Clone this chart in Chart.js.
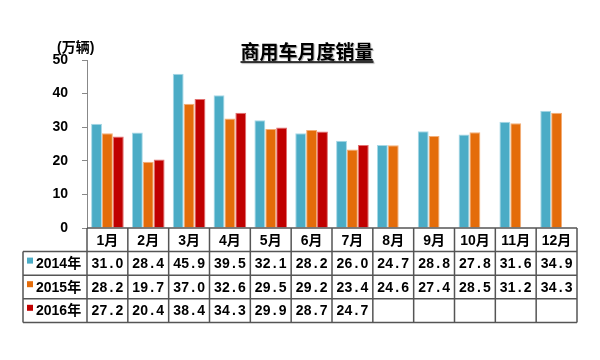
<!DOCTYPE html>
<html><head><meta charset="utf-8">
<script src="https://cdn.jsdelivr.net/npm/chart.js@4/dist/chart.umd.min.js"></script>
<style>html,body{margin:0;padding:0;background:#fff;}</style>
</head><body>
<canvas id="c" width="600" height="360" style="width:600px;height:360px;display:block"></canvas>
<script>
const categories = ['1月','2月','3月','4月','5月','6月','7月','8月','9月','10月','11月','12月'];
const seriesNames = ['2014年','2015年','2016年'];
const sales2014 = [31.0,28.4,45.9,39.5,32.1,28.2,26.0,24.7,28.8,27.8,31.6,34.9];
const sales2015 = [28.2,19.7,37.0,32.6,29.5,29.2,23.4,24.6,27.4,28.5,31.2,34.3];
const sales2016 = [27.2,20.4,38.4,34.3,29.9,28.7,24.7,null,null,null,null,null];
const yTicks = [0,10,20,30,40,50];
const chartTitle = '商用车月度销量';
const unitLabel = '(万辆)';

const seriesData = [sales2014, sales2015, sales2016];
const colors = ['#4BACC6','#E46C0A','#C00000'];
const borders = ['#A6D8E6','#F3AE78','#E27070'];
const cjk = '"Liberation Sans", "Noto Sans CJK SC", sans-serif';

function drawFixed(ctx, str, cx, cy, adv) {
  const w = str.length * adv;
  let x = cx - w / 2 + adv / 2;
  ctx.textAlign = 'center';
  for (const ch of str) { ctx.fillText(ch, x, cy); x += adv; }
}

const tablePlugin = {
  id: 'tablePlugin',
  afterDraw(chart) {
    const ctx = chart.ctx, area = chart.chartArea, xs = chart.scales.x;
    const n = categories.length;
    const cw = (area.right - area.left) / n;
    const rowH = 23.6, top = area.bottom, leftCol = 23;
    const bottom = top + rowH * 4;
    ctx.save();
    ctx.strokeStyle = '#555'; ctx.lineWidth = 1.5;
    ctx.beginPath();
    ctx.moveTo(area.left, top); ctx.lineTo(area.right, top);
    for (let k = 1; k <= 4; k++) {
      ctx.moveTo(leftCol, top + rowH * k); ctx.lineTo(area.right, top + rowH * k);
    }
    for (let i = 0; i <= n; i++) {
      const x = (i < n ? xs.getPixelForValue(i) - cw / 2 : xs.getPixelForValue(n - 1) + cw / 2);
      ctx.moveTo(x, top); ctx.lineTo(x, bottom);
    }
    ctx.moveTo(leftCol, top + rowH); ctx.lineTo(leftCol, bottom);
    ctx.stroke();
    ctx.fillStyle = '#000';
    ctx.textBaseline = 'middle';
    ctx.font = 'bold 14px ' + cjk;
    ctx.textAlign = 'center';
    categories.forEach((c, i) => ctx.fillText(c, xs.getPixelForValue(i), top + rowH / 2 + 1));
    seriesNames.forEach((s, r) => {
      const y0 = top + rowH * (r + 1);
      ctx.fillStyle = colors[r];
      ctx.fillRect(27, y0 + 6, 6, 6);
      ctx.fillStyle = '#000';
      ctx.textAlign = 'left';
      ctx.font = 'bold 14px ' + cjk;
      ctx.fillText(s, 36, y0 + rowH / 2 + 1);
      ctx.font = 'bold 14px "Liberation Sans", sans-serif';
      seriesData[r].forEach((v, i) => {
        if (v === null) return;
        drawFixed(ctx, v.toFixed(1), xs.getPixelForValue(i), y0 + rowH / 2 + 1, 8);
      });
    });
    // title
    ctx.font = 'bold 19px "Noto Sans CJK SC", sans-serif';
    ctx.textAlign = 'center';
    ctx.shadowColor = 'rgba(0,0,0,0.35)'; ctx.shadowOffsetX = 1; ctx.shadowOffsetY = 1; ctx.shadowBlur = 1;
    const tx = 307, ty = 52;
    ctx.fillText(chartTitle, tx, ty);
    const tw = ctx.measureText(chartTitle).width;
    ctx.beginPath(); ctx.lineWidth = 1.3; ctx.strokeStyle = '#000';
    ctx.moveTo(tx - tw / 2, 62); ctx.lineTo(tx + tw / 2, 62); ctx.stroke();
    ctx.shadowColor = 'transparent';
    ctx.font = 'bold 14px ' + cjk;
    ctx.textAlign = 'left';
    ctx.fillText(unitLabel, 57, 48);
    ctx.restore();
  }
};

new Chart(document.getElementById('c'), {
  type: 'bar',
  data: {
    labels: categories,
    datasets: seriesNames.map((s, r) => ({
      label: s, data: seriesData[r], backgroundColor: colors[r],
      borderColor: borders[r], borderWidth: 1,
      categoryPercentage: 0.8, barPercentage: 1.0
    }))
  },
  options: {
    responsive: false, animation: false, devicePixelRatio: 1,
    layout: { padding: { left: 0, right: 23, top: 60, bottom: 132 } },
    plugins: { legend: { display: false }, title: { display: false }, tooltip: { enabled: false } },
    scales: {
      x: { display: false, offset: true },
      y: {
        min: yTicks[0], max: yTicks[yTicks.length - 1],
        afterFit(scale) { scale.width = 87; },
        afterBuildTicks(scale) { scale.ticks = yTicks.map(v => ({ value: v })); },
        ticks: { font: { size: 14, weight: 'bold', family: '"Liberation Sans", sans-serif' }, color: '#000', padding: 14 },
        grid: { drawOnChartArea: false, tickLength: 5, color: '#888' },
        border: { color: '#888', width: 1 }
      }
    }
  },
  plugins: [tablePlugin]
});
</script>
</body></html>
